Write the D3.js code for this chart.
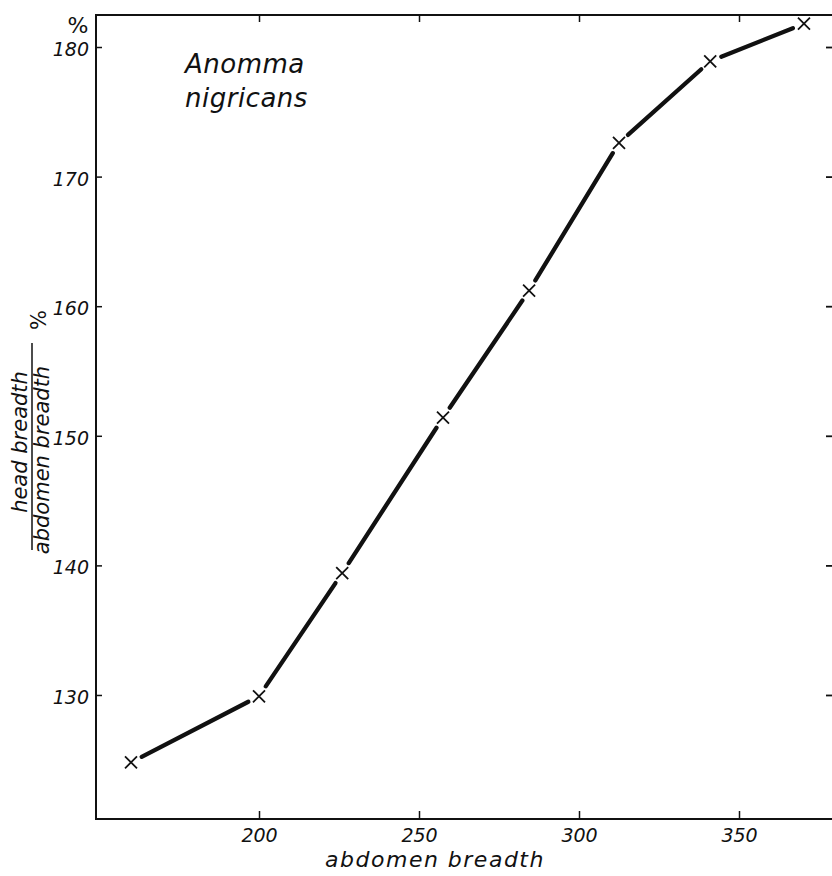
<!DOCTYPE html>
<html>
<head>
<meta charset="utf-8">
<script src="https://cdn.jsdelivr.net/npm/d3@7"></script>
<style>
  body { margin: 0; background: #fff; }
  svg { display: block; }
  text { font-family: "DejaVu Sans", "Liberation Sans", sans-serif; font-style: italic; fill: #111; }
</style>
</head>
<body>
<svg id="chart" width="832" height="876"></svg>
<script>
// Data
const abdomenBreadth = [160, 200, 226, 257.5, 284.4, 312.5, 341, 370.3];
const headRatioPct   = [124.8, 129.9, 139.4, 151.4, 161.2, 172.6, 178.9, 181.8];
const xTickValues = [200, 250, 300, 350];
const yTickValues = [130, 140, 150, 160, 170, 180];
const speciesLines = ["Anomma", "nigricans"];

(function () {
const svg = d3.select("#chart");
const mLeft = 96, mRight = 835, mTop = 15, mBottom = 819;

const x = d3.scaleLinear().domain([149.06, 380]).range([mLeft, mRight]);
const y = d3.scaleLinear().domain([120.43, 182.47]).range([mBottom, mTop]);

const ink = "#111";
const fontFam = '"DejaVu Sans", "Liberation Sans", sans-serif';

// Frame
svg.append("rect")
  .attr("x", mLeft).attr("y", mTop)
  .attr("width", mRight - mLeft).attr("height", mBottom - mTop)
  .attr("fill", "none").attr("stroke", ink).attr("stroke-width", 2);

// Bottom axis (ticks inward)
const xAxis = d3.axisBottom(x).tickValues(xTickValues).tickSizeInner(-8).tickSizeOuter(0).tickPadding(10).tickFormat(d3.format("d"));
const gx = svg.append("g").attr("transform", `translate(0,${mBottom})`).call(xAxis);
gx.select(".domain").remove();
gx.selectAll(".tick line").attr("stroke", ink).attr("stroke-width", 1.5);
gx.selectAll(".tick text").attr("font-size", 19).attr("fill", ink)
  .style("font-family", fontFam).style("font-style", "italic");

// Top axis (ticks inward)
const gxt = svg.append("g").attr("transform", `translate(0,${mTop})`)
  .call(d3.axisTop(x).tickValues(xTickValues).tickSizeInner(-7).tickSizeOuter(0).tickFormat(""));
gxt.select(".domain").remove();
gxt.selectAll(".tick line").attr("stroke", ink).attr("stroke-width", 1.5);

// Left axis (ticks inward)
const yAxis = d3.axisLeft(y).tickValues(yTickValues).tickSizeInner(-6).tickSizeOuter(0).tickPadding(7).tickFormat(d3.format("d"));
const gy = svg.append("g").attr("transform", `translate(${mLeft},0)`).call(yAxis);
gy.select(".domain").remove();
gy.selectAll(".tick line").attr("stroke", ink).attr("stroke-width", 1.5);
gy.selectAll(".tick text").attr("font-size", 19).attr("fill", ink).attr("dy", "0.45em")
  .style("font-family", fontFam).style("font-style", "italic");

// Right axis (ticks inward)
const gyr = svg.append("g").attr("transform", `translate(${mRight},0)`)
  .call(d3.axisRight(y).tickValues(yTickValues).tickSizeInner(-9).tickSizeOuter(0).tickFormat(""));
gyr.select(".domain").remove();
gyr.selectAll(".tick line").attr("stroke", ink).attr("stroke-width", 1.8);

// "%" above the y axis
svg.append("text").attr("x", 78).attr("y", 33).attr("text-anchor", "middle")
  .attr("font-size", 22).style("font-style", "normal").text("%");

// Data points
const pts = abdomenBreadth.map((v, i) => [x(v), y(headRatioPct[i])]);

// Line segments with small gaps at markers
const gap = 12;
const segs = [];
for (let i = 0; i < pts.length - 1; i++) {
  const [x1, y1] = pts[i], [x2, y2] = pts[i + 1];
  const L = Math.hypot(x2 - x1, y2 - y1);
  const ux = (x2 - x1) / L, uy = (y2 - y1) / L;
  segs.push([x1 + ux * gap, y1 + uy * gap, x2 - ux * gap, y2 - uy * gap]);
}
svg.append("g").selectAll("line").data(segs).join("line")
  .attr("x1", d => d[0]).attr("y1", d => d[1])
  .attr("x2", d => d[2]).attr("y2", d => d[3])
  .attr("stroke", ink).attr("stroke-width", 4.3).attr("stroke-linecap", "round");

// Cross markers
const s = 6;
svg.append("g").selectAll("path").data(pts).join("path")
  .attr("d", d => `M${d[0]-s},${d[1]-s}L${d[0]+s},${d[1]+s}M${d[0]-s},${d[1]+s}L${d[0]+s},${d[1]-s}`)
  .attr("stroke", ink).attr("stroke-width", 1.8).attr("fill", "none");

// Species label
svg.append("g").selectAll("text").data(speciesLines).join("text")
  .attr("x", 185).attr("y", (d, i) => 73 + i * 34)
  .attr("font-size", 26).attr("letter-spacing", 0.5).text(d => d);

// X axis label
svg.append("text").attr("x", 435).attr("y", 867).attr("text-anchor", "middle")
  .attr("font-size", 22).attr("letter-spacing", 1.5).text("abdomen breadth");

// Y axis label: fraction rotated
const yl = svg.append("g").attr("transform", "translate(32,450) rotate(-90)");
yl.append("text").attr("x", 8).attr("y", -5).attr("text-anchor", "middle")
  .attr("font-size", 21).text("head breadth");
yl.append("line").attr("x1", -100).attr("x2", 107).attr("y1", 0).attr("y2", 0)
  .attr("stroke", ink).attr("stroke-width", 1.5);
yl.append("text").attr("x", -10).attr("y", 17).attr("text-anchor", "middle")
  .attr("font-size", 21).text("abdomen breadth");
yl.append("text").attr("x", 130).attr("y", 14).attr("text-anchor", "middle")
  .attr("font-size", 21).style("font-style", "normal").text("%");
})();
</script>
</body>
</html>
